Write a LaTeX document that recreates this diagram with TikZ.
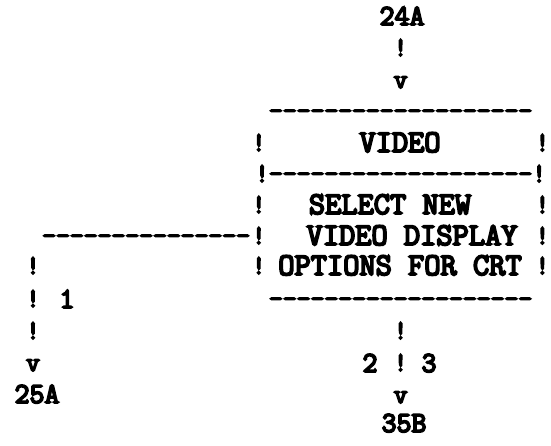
\documentclass[tikz,border=0pt]{standalone}
\usepackage{fontspec}
\newfontfamily\typer{Latin Modern Mono}[FakeBold=6]
\usetikzlibrary{positioning}
\tikzset{
  chr/.style ={inner sep=0pt, anchor=base,
               font=\typer\fontsize{26.9}{30}\selectfont},
  word/.style={inner sep=0pt, anchor=base,
               font=\typer\fontsize{31.5}{34}\selectfont},
  ref/.style ={inner sep=0pt, anchor=base,
               font=\typer\fontsize{29}{32}\selectfont}
}

\begin{document}
\begin{tikzpicture}[x=1pt, y=-1pt]
\useasboundingbox (0,0) rectangle (551,446);
% incoming link
\node[ref] (in)    at (402,25)   {24A};
\node[chr] (inbar) at (400.6,56) {!};
\node[chr] (inv)   at (400.6,88) {v};
% the box
\node[chr] (boxtop) at (400.6,119) {-------------------};
\foreach \n/\y in {5/151,7/213,8/244,9/274} {
  \node[chr] (l\n) at (258.8,\y) {!};
  \node[chr] (r\n) at (542.4,\y) {!};
}
\node[word] (title) at (400,152) {VIDEO};
\node[chr]  (mid)   at (400.6,182) {!-------------------!};
\node[word] (txta)  at (390,214) {SELECT NEW};
\node[word] (txtb)  at (412,245) {VIDEO DISPLAY};
\node[word] (txtc)  at (400,275) {OPTIONS FOR CRT};
\node[chr] (boxbot) at (400.6,307) {-------------------};
% exit 1
\node[chr] (branch) at (146.1,244) {---------------};
\foreach \n/\y in {9/274,10/307,11/339} {
  \node[chr] (d\n) at (33,\y) {!};
}
\node[ref] (one)   at (67,308)  {1};
\node[chr] (leftv) at (33,371)  {v};
\node[ref] (outa)  at (37,403)  {25A};
% exits 2 and 3
\node[chr] (outbar)  at (400.6,339) {!};
\node[ref] (two)     at (370,372)   {2};
\node[chr] (outbarb) at (400.6,371) {!};
\node[ref] (three)   at (429,372)   {3};
\node[chr] (outv)    at (400.6,403) {v};
\node[ref] (outb)    at (404,432)   {35B};
\end{tikzpicture}
\end{document}
